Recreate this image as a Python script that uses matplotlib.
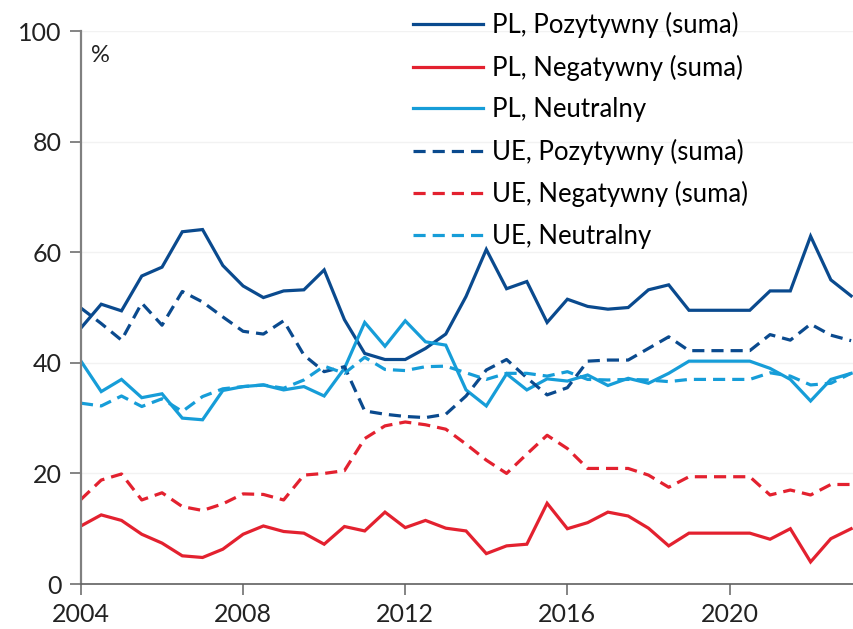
import matplotlib
matplotlib.use("Agg")
import matplotlib.pyplot as plt

# dane (pomiary co pol roku)
years = [2004.0, 2004.5, 2005.0, 2005.5, 2006.0, 2006.5, 2007.0, 2007.5,
         2008.0, 2008.5, 2009.0, 2009.5, 2010.0, 2010.5, 2011.0, 2011.5,
         2012.0, 2012.5, 2013.0, 2013.5, 2014.0, 2014.5, 2015.0, 2015.5,
         2016.0, 2016.5, 2017.0, 2017.5, 2018.0, 2018.5, 2019.0, 2019.5,
         2020.0, 2020.5, 2021.0, 2021.5, 2022.0, 2022.5, 2023.0]

pl_pos = [46.3, 50.6, 49.4, 55.7, 57.3, 63.7, 64.1, 57.6, 53.9, 51.8, 53.0, 53.2, 56.8,
          47.8, 41.7, 40.6, 40.6, 42.6,
          45.2, 52.0, 60.5, 53.4, 54.7, 47.3, 51.5, 50.2, 49.7, 50.0, 53.2, 54.1,
          49.5, 49.5, 49.5, 49.5,
          53.0, 53.0, 62.9, 55.0, 52.1]
pl_neg = [10.5, 12.5, 11.5, 9.0, 7.4, 5.1, 4.8, 6.3, 9.0, 10.5, 9.5, 9.2, 7.2,
          10.4, 9.6, 13.0, 10.2, 11.5,
          10.1, 9.6, 5.5, 6.9, 7.2, 14.6, 10.0, 11.1, 13.0, 12.3, 10.1, 6.9,
          9.2, 9.2, 9.2, 9.2,
          8.1, 10.0, 4.0, 8.2, 10.0]
pl_neu = [40.3, 34.8, 37.0, 33.7, 34.4, 30.0, 29.7, 35.0, 35.7, 36.0, 35.1, 35.7, 34.0,
          39.0, 47.3, 43.0, 47.6, 43.8,
          43.2, 35.1, 32.2, 38.0, 35.1, 37.1, 36.7, 37.8, 35.9, 37.2, 36.3, 38.1,
          40.3, 40.3, 40.3, 40.3,
          39.0, 37.0, 33.1, 37.0, 38.1]
ue_pos = [49.9, 47.1, 44.1, 50.8, 46.8, 52.9, 51.0, 48.3, 45.7, 45.2, 47.6, 41.4, 38.4,
          39.3, 31.3, 30.7, 30.3, 30.1,
          30.7, 34.0, 38.7, 40.6, 37.3, 34.2, 35.5, 40.3, 40.5, 40.5, 42.6, 44.7,
          42.2, 42.2, 42.2, 42.2,
          45.1, 44.1, 47.0, 45.0, 44.0]
ue_neg = [15.3, 18.8, 19.9, 15.2, 16.5, 14.0, 13.3, 14.5, 16.3, 16.2, 15.2, 19.7, 20.0,
          20.5, 26.3, 28.6, 29.3, 28.8,
          28.0, 25.3, 22.4, 20.0, 23.5, 26.9, 24.5, 20.9, 20.9, 20.9, 19.7, 17.5,
          19.4, 19.4, 19.4, 19.4,
          16.1, 17.0, 16.1, 18.0, 18.0]
ue_neu = [32.7, 32.2, 34.0, 32.1, 33.5, 31.2, 33.9, 35.3, 35.7, 36.0, 35.4, 36.9, 39.4,
          38.1, 41.0, 38.8, 38.6, 39.3,
          39.4, 38.2, 37.0, 38.1, 38.1, 37.6, 38.4, 37.0, 36.9, 37.0, 36.9, 36.6,
          37.0, 37.0, 37.0, 37.0,
          38.2, 37.6, 36.0, 36.3, 38.1]

labels = ["PL, Pozytywny (suma)", "PL, Negatywny (suma)", "PL, Neutralny",
          "UE, Pozytywny (suma)", "UE, Negatywny (suma)", "UE, Neutralny"]
xticks = [2004, 2008, 2012, 2016, 2020]
yticks = [0, 20, 40, 60, 80, 100]

DARK = "#0a4a8e"
RED = "#e3212f"
LIGHT = "#169dd8"

plt.rcParams['font.family'] = ['Lato', 'DejaVu Sans']

fig = plt.figure(figsize=(8.54, 6.29), dpi=100)
ax = fig.add_axes([0.0948, 0.0715, 0.9042, 0.8792])

lw = 2.3
dash = (3.8, 2.2)
series = [(pl_pos, DARK, None), (pl_neg, RED, None), (pl_neu, LIGHT, None),
          (ue_pos, DARK, dash), (ue_neg, RED, dash), (ue_neu, LIGHT, dash)]
for (vals, col, ds), lab in zip(series, labels):
    ln, = ax.plot(years, vals, color=col, lw=lw, label=lab, solid_joinstyle="miter")
    if ds is not None:
        ln.set_dashes(ds)

ax.set_xlim(2004, 2023.05)
ax.set_ylim(0, 100)
ax.set_xticks(xticks)
ax.set_yticks(yticks)
ax.tick_params(axis="both", labelsize=18, colors="#222222", length=8, width=1.2,
               direction="out", pad=6)
ax.tick_params(axis="both", color="#707070")
ax.grid(axis="y", color="#f2f2f2", lw=1)
ax.set_axisbelow(True)
for s in ["top", "right"]:
    ax.spines[s].set_visible(False)
ax.spines["left"].set_color("#808080")
ax.spines["left"].set_linewidth(1.6)
ax.spines["bottom"].set_color("#606060")
ax.spines["bottom"].set_linewidth(1.2)

ax.text(0.013, 0.955, "%", transform=ax.transAxes, fontsize=17, color="#222222",
        va="center", ha="left")

fig.legend(loc="upper left", bbox_to_anchor=(0.484, 0.981), frameon=False,
           fontsize=18.5, handlelength=2.7, handletextpad=0.35, labelspacing=0.64,
           borderpad=0, borderaxespad=0)

fig.savefig("out.png", dpi=100)
